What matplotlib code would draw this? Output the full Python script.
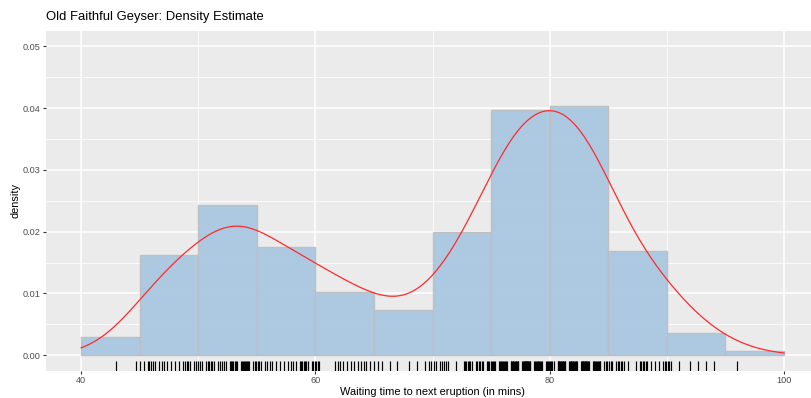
import numpy as np
import matplotlib
matplotlib.use("Agg")
import matplotlib.pyplot as plt
from matplotlib.ticker import MultipleLocator

plt.rcParams['font.family'] = ['Liberation Sans', 'DejaVu Sans']

# Old Faithful waiting times (rug / raw data)
waiting = [79, 54, 74, 62, 85, 55, 88, 85, 51, 85, 54, 84, 78, 47, 83, 52, 62, 84, 52, 79,
           51, 47, 78, 69, 74, 83, 55, 76, 78, 79, 73, 77, 66, 80, 74, 52, 48, 80, 59, 90,
           80, 58, 84, 58, 73, 83, 64, 53, 82, 59, 75, 90, 54, 80, 54, 83, 71, 64, 77, 81,
           59, 84, 48, 82, 60, 92, 78, 78, 65, 73, 82, 56, 79, 71, 62, 76, 60, 78, 76, 83,
           75, 82, 70, 65, 73, 88, 76, 80, 48, 86, 60, 90, 50, 78, 63, 72, 84, 75, 51, 82,
           62, 88, 49, 83, 81, 47, 84, 52, 86, 81, 75, 59, 89, 79, 59, 81, 50, 85, 59, 87,
           53, 69, 77, 56, 88, 81, 45, 82, 55, 90, 45, 83, 56, 89, 46, 82, 51, 86, 53, 79,
           81, 60, 82, 77, 76, 59, 80, 49, 96, 53, 77, 77, 65, 81, 71, 70, 81, 93, 53, 89,
           45, 86, 58, 78, 66, 76, 63, 88, 52, 93, 49, 57, 77, 68, 81, 81, 73, 50, 85, 74,
           55, 77, 83, 83, 51, 78, 84, 46, 83, 55, 81, 57, 76, 84, 77, 81, 87, 77, 51, 78,
           60, 82, 91, 53, 78, 46, 77, 84, 49, 83, 71, 80, 49, 75, 64, 76, 53, 94, 55, 76,
           50, 82, 54, 75, 78, 79, 78, 78, 70, 79, 70, 54, 86, 50, 90, 54, 54, 77, 79, 64,
           75, 47, 86, 63, 85, 82, 57, 82, 67, 74, 54, 83, 73, 73, 88, 80, 71, 83, 56, 79,
           78, 84, 58, 83, 43, 60, 75, 81, 46, 90, 46, 74]

# Histogram (binwidth 5, 40..100) densities
bin_left = [40, 45, 50, 55, 60, 65, 70, 75, 80, 85, 90, 95]
bin_density = [0.00294, 0.0162, 0.0243, 0.0176, 0.0103, 0.00735,
               0.0199, 0.0397, 0.0404, 0.0169, 0.00368, 0.00074]
bin_width = 5

x_ticks = [40, 60, 80, 100]
y_ticks = [0.00, 0.01, 0.02, 0.03, 0.04, 0.05]
y_tick_labels = ["0.00", "0.01", "0.02", "0.03", "0.04", "0.05"]

title = "Old Faithful Geyser: Density Estimate"
xlabel = "Waiting time to next eruption (in mins)"
ylabel = "density"

# Gaussian kernel density estimate over the scale range 40..100
bandwidth = 3.0
w = np.asarray(waiting, dtype=float)
n = len(w)
grid = np.linspace(40, 100, 512)
kde = np.exp(-0.5 * ((grid[:, None] - w[None, :]) / bandwidth) ** 2).sum(axis=1) \
    / (n * bandwidth * np.sqrt(2 * np.pi))

# rug positions: tied values spread side by side within +-0.33 (deterministic dodge)
rug_x = []
vals, counts = np.unique(w, return_counts=True)
for v, k in zip(vals, counts):
    if k == 1:
        rug_x.append(v)
    else:
        rug_x.extend(v + np.linspace(-0.33, 0.33, k))

fig = plt.figure(figsize=(8.11, 3.98), dpi=100)
ax = fig.add_axes([46 / 811, 1 - 370.7 / 398, 1 - 46 / 811 + 0.01, (370.7 - 31) / 398])
ax.set_facecolor('#EBEBEB')
for s in ax.spines.values():
    s.set_visible(False)

ax.set_xlim(37, 103)
ax.set_ylim(-0.0025, 0.0525)
ax.set_xticks(x_ticks)
ax.set_yticks(y_ticks)
ax.set_yticklabels(y_tick_labels)
ax.xaxis.set_minor_locator(MultipleLocator(10))
ax.yaxis.set_minor_locator(MultipleLocator(0.005))
ax.grid(which='major', color='white', linewidth=1.1)
ax.grid(which='minor', color='white', linewidth=0.55)
ax.set_axisbelow(True)
ax.tick_params(which='major', length=2.5, width=0.8, color='#333333', labelsize=6.6,
               labelcolor='#4D4D4D', pad=1.2)
ax.tick_params(which='minor', length=0)

ax.bar(bin_left, bin_density, width=bin_width, align='edge', color='#AAC8E2', alpha=0.95,
       edgecolor='#BEBEBE', linewidth=1.0, zorder=2)
ax.plot(grid, kde, color='#FF2A2A', linewidth=0.9, zorder=3)

# rug
ax.vlines(rug_x, 0, 0.03, transform=ax.get_xaxis_transform(), color='black', alpha=1.0,
          linewidth=0.85, zorder=3)

ax.set_xlabel(xlabel, fontsize=7.9, color='black', labelpad=1.5)
ax.set_ylabel(ylabel, fontsize=7.9, color='black', labelpad=2)
fig.text(46 / 811, 1 - 17 / 398, title, fontsize=9.4, ha='left', va='center', color='black')

fig.savefig('out.png', dpi=100)
